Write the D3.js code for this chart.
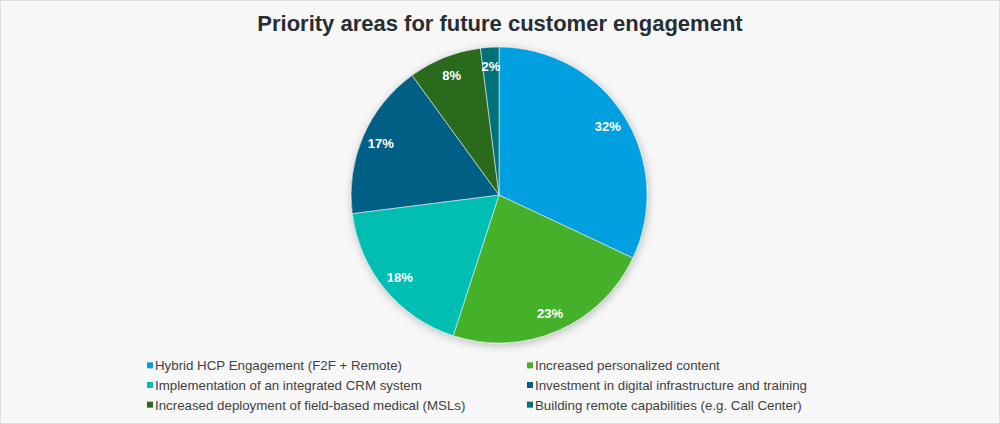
<!DOCTYPE html>
<html>
<head>
<meta charset="utf-8">
<script src="https://cdn.jsdelivr.net/npm/d3@7"></script>
<style>
  body { margin: 0; background: #f7f7f7; }
  svg { display: block; font-family: "Liberation Sans", Arial, sans-serif; }
</style>
</head>
<body>
<script>
// Chart data
const categories = [
    "Hybrid HCP Engagement (F2F + Remote)",
    "Increased personalized content",
    "Implementation of an integrated CRM system",
    "Investment in digital infrastructure and training",
    "Increased deployment of field-based medical (MSLs)",
    "Building remote capabilities (e.g. Call Center)"
];
const shares = [32, 23, 18, 17, 8, 2];
const sliceColors = ["#009fe0", "#45b02c", "#00beb2", "#005e85", "#2a6a1f", "#00707a"];

const width = 1000, height = 424;
const cx = 499, cy = 195, radius = 148;

const svg = d3.select("body").append("svg")
    .attr("width", width)
    .attr("height", height);

// Background + frame
svg.append("rect")
    .attr("x", 0.5).attr("y", 0.5)
    .attr("width", width - 1).attr("height", height - 1)
    .style("fill", "#f7f7f7")
    .style("stroke", "#dcdcdc");

// Soft shadow under the pie
const defs = svg.append("defs");
const shadow = defs.append("filter").attr("id", "shadow")
    .attr("x", "-20%").attr("y", "-20%").attr("width", "140%").attr("height", "140%");
shadow.append("feGaussianBlur").attr("in", "SourceAlpha").attr("stdDeviation", 4);
shadow.append("feOffset").attr("dx", 1).attr("dy", 2).attr("result", "blur");
shadow.append("feComponentTransfer").append("feFuncA").attr("type", "linear").attr("slope", 0.25);
const merge = shadow.append("feMerge");
merge.append("feMergeNode");
merge.append("feMergeNode").attr("in", "SourceGraphic");

// Title
svg.append("text")
    .attr("x", width / 2)
    .attr("y", 31)
    .attr("text-anchor", "middle")
    .style("font-size", "22px")
    .style("font-weight", "bold")
    .style("fill", "#262d33")
    .text("Priority areas for future customer engagement");

// Pie
const color = d3.scaleOrdinal().domain(categories).range(sliceColors);
const pie = d3.pie().sort(null).value(d => d.value);
const arcs = pie(categories.map((c, i) => ({ name: c, value: shares[i] })));
const arc = d3.arc().innerRadius(0).outerRadius(radius);
const labelArc = d3.arc().innerRadius(radius * 0.87).outerRadius(radius * 0.87);

const g = svg.append("g").attr("transform", `translate(${cx},${cy})`);

g.append("g").attr("filter", "url(#shadow)")
    .selectAll("path")
    .data(arcs)
    .join("path")
    .attr("d", arc)
    .style("fill", d => color(d.data.name))
    .style("stroke", "#e8eef0")
    .style("stroke-width", 0.6);

g.selectAll("text.lbl")
    .data(arcs)
    .join("text")
    .attr("class", "lbl")
    .attr("transform", d => `translate(${labelArc.centroid(d)})`)
    .attr("text-anchor", "middle")
    .attr("dy", "0.35em")
    .style("font-size", "13px")
    .style("font-weight", "bold")
    .style("fill", "#ffffff")
    .text(d => d.data.value + "%");

// Legend (two columns, three rows)
const colX = [147, 527];
const rowY = d3.scaleBand().domain([0, 1, 2]).range([356, 415]);
const legend = svg.append("g");
const items = legend.selectAll("g")
    .data(categories)
    .join("g")
    .attr("transform", (d, i) => `translate(${colX[i % 2]},${rowY(Math.floor(i / 2)) + rowY.bandwidth() / 2})`);

items.append("rect")
    .attr("x", 0).attr("y", -3.5)
    .attr("width", 6).attr("height", 6)
    .style("fill", d => color(d));

items.append("text")
    .attr("x", 8)
    .attr("dy", "0.35em")
    .style("font-size", "13.3px")
    .style("fill", "#3f3f3f")
    .text(d => d);
</script>
</body>
</html>
